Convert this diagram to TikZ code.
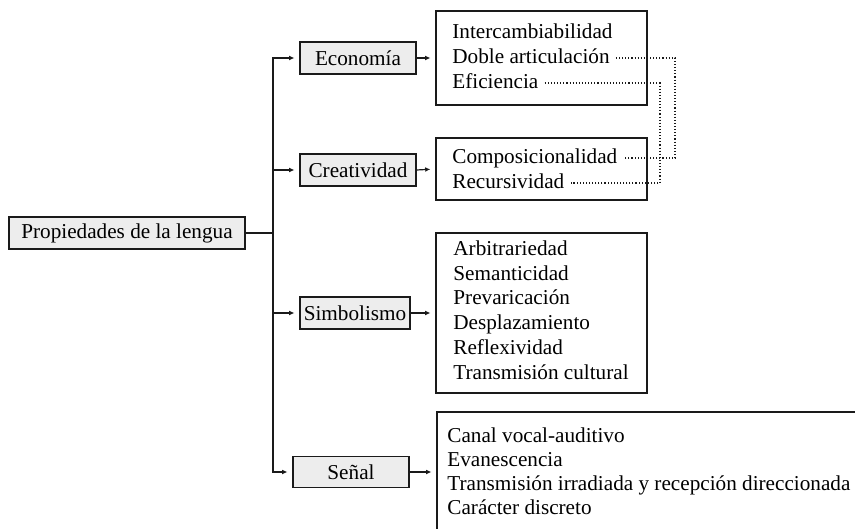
\documentclass[tikz,border=0pt]{standalone}
\usepackage{fontspec}
\setmainfont{Liberation Serif}
\usepackage{tikz}
\usetikzlibrary{arrows.meta,calc}
\definecolor{ink}{HTML}{1A1A1A}
\definecolor{boxbg}{HTML}{EDEDED}
\tikzset{
  line/.style={draw=ink, line width=0.6pt},
  arr/.style={line, -{Latex[length=2.6pt,width=2.4pt]}, shorten >=2.5pt},
  link/.style={draw=ink, line width=0.55pt, densely dotted},
  catbox/.style={line, fill=boxbg, minimum height=16pt, inner sep=0pt},
  lstbox/.style={line, fill=white, inner sep=0pt},
  item/.style={anchor=west, inner sep=0pt, text height=7.5pt, text depth=2.2pt},
}
\begin{document}
\begin{tikzpicture}[x=0.5pt, y=-0.5pt, font=\fontsize{10.6pt}{12.7pt}\selectfont]
\useasboundingbox (0,0) rectangle (855,529);
\clip (0,0) rectangle (855,529);
\fill[white] (0,0) rectangle (855,529);

% root and categories
\node[catbox, minimum width=118pt] (root) at (127,233) {Propiedades de la lengua};
\node[catbox, minimum width=58pt] (eco) at (358,58) {Economía};
\node[catbox, minimum width=58pt] (cre) at (358,170) {Creatividad};
\node[catbox, minimum width=55pt] (sim) at (355,313) {Simbolismo};
\node[catbox, minimum width=58pt, minimum height=15.5pt] (sen) at (351,472) {Señal};

% list boxes
\node[lstbox, minimum width=105.5pt, minimum height=47pt] (l1) at (541.5,58) {};
\node[lstbox, minimum width=105.5pt, minimum height=31pt] (l2) at (541.5,169) {};
\node[lstbox, minimum width=105.5pt, minimum height=80pt] (l3) at (541.5,313) {};
\node[lstbox, minimum width=216.5pt, minimum height=60pt] (l4) at (653.5,472) {};

\node[item] (l1a) at (452,33) {Intercambiabilidad};
\node[item] (l1b) at (452,58) {Doble articulación};
\node[item] (l1c) at (452,83) {Eficiencia};
\node[item] (l2a) at (452,158) {Composicionalidad};
\node[item] (l2b) at (452,183) {Recursividad};
\foreach \t [count=\i from 0] in {Arbitrariedad,Semanticidad,Prevaricación,Desplazamiento,Reflexividad,Transmisión cultural}
  \node[item] (l3\i) at (453,250+24.8*\i) {\t};
\foreach \t [count=\i from 0] in {Canal vocal-auditivo,Evanescencia,Transmisión irradiada y recepción direccionada,Carácter discreto}
  \node[item] (l4\i) at (447,437+24*\i) {\t};

% trunk
\coordinate (j) at (273,233);
\draw[line] (root.east) -- (j);
\draw[arr] (j) |- (eco.west);
\draw[arr] (j) |- (sen.west);
\draw[arr] (j |- cre.west) -- (cre.west);
\draw[arr] (j |- sim.west) -- (sim.west);

% categories to lists
\draw[arr] (eco.east) -- (l1.west);
\draw[arr] (cre.east) -- (l2.west);
\draw[arr] (sim.east) -- (l3.west);
\draw[arr] (sen.east) -- (l4.west);

% dotted links
\coordinate (r1) at (675,0);
\coordinate (r2) at (660,0);
\draw[link] ([xshift=3pt]l1b.east) -- (l1b.east -| r1) -- (l2a.east -| r1) -- ([xshift=3pt]l2a.east);
\draw[link] ([xshift=3pt]l1c.east) -- (l1c.east -| r2) -- (l2b.east -| r2) -- ([xshift=3pt]l2b.east);
\end{tikzpicture}
\end{document}
